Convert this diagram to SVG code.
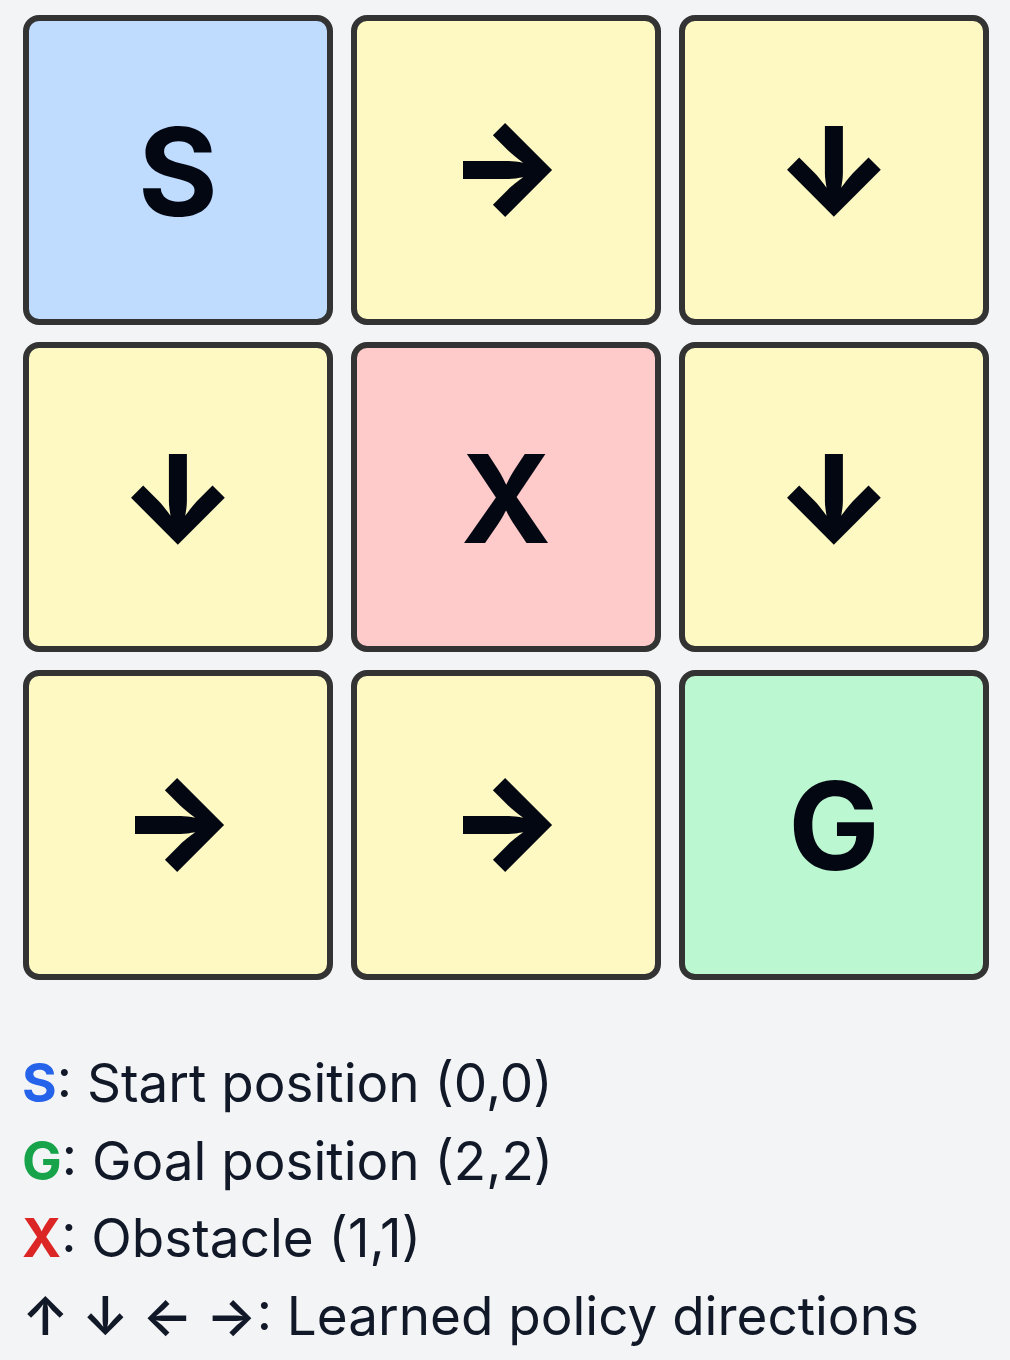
<svg xmlns="http://www.w3.org/2000/svg" width="1010" height="1360" viewBox="0 0 1010 1360">
<style>
.cell{stroke:#333333;stroke-width:6}
.y{fill:#fef9c3}
.lbl{font-family:Inter,"Liberation Sans",sans-serif;font-weight:700;font-size:122px;fill:#030712;text-anchor:middle}
.arr{font-family:Inter,"Liberation Sans",sans-serif;font-weight:900;font-size:122px;fill:#030712;text-anchor:middle}
.leg{font-family:Inter,"Liberation Sans",sans-serif;font-size:53px;fill:#111827}
.b{font-weight:700}
.la{font-weight:600}
</style>
<rect x="0" y="0" width="1010" height="1360" fill="#f3f4f6"/>
<g id="cell-0-0"><rect class="cell" x="26" y="18" width="304" height="304" rx="13" fill="#bfdbfe"/><text class="lbl" x="178" y="216">S</text></g>
<g id="cell-0-1"><rect class="cell y" x="354" y="18" width="304" height="304" rx="13"/><text class="arr" x="506" y="209">→</text></g>
<g id="cell-0-2"><rect class="cell y" x="682" y="18" width="304" height="304" rx="13"/><text class="arr" x="834" y="215">↓</text></g>
<g id="cell-1-0"><rect class="cell y" x="26" y="345" width="304" height="304" rx="13"/><text class="arr" x="178" y="543">↓</text></g>
<g id="cell-1-1"><rect class="cell" x="354" y="345" width="304" height="304" rx="13" fill="#fecaca"/><text class="lbl" x="506" y="543">X</text></g>
<g id="cell-1-2"><rect class="cell y" x="682" y="345" width="304" height="304" rx="13"/><text class="arr" x="834" y="543">↓</text></g>
<g id="cell-2-0"><rect class="cell y" x="26" y="673" width="304" height="304" rx="13"/><text class="arr" x="178" y="864">→</text></g>
<g id="cell-2-1"><rect class="cell y" x="354" y="673" width="304" height="304" rx="13"/><text class="arr" x="506" y="864">→</text></g>
<g id="cell-2-2"><rect class="cell" x="682" y="673" width="304" height="304" rx="13" fill="#bbf7d0"/><text class="lbl" x="834" y="870">G</text></g>
<g id="legend">
<text class="leg" x="22" y="1102"><tspan class="b" fill="#2563eb">S</tspan>: Start position (0,0)</text>
<text class="leg" x="22" y="1180"><tspan class="b" fill="#16a34a">G</tspan>: Goal position (2,2)</text>
<text class="leg" x="22" y="1257"><tspan class="b" fill="#dc2626">X</tspan>: Obstacle (1,1)</text>
<text class="leg" x="22" y="1335"><tspan class="la">↑ ↓ ← →</tspan>: Learned policy directions</text>
</g>
</svg>
